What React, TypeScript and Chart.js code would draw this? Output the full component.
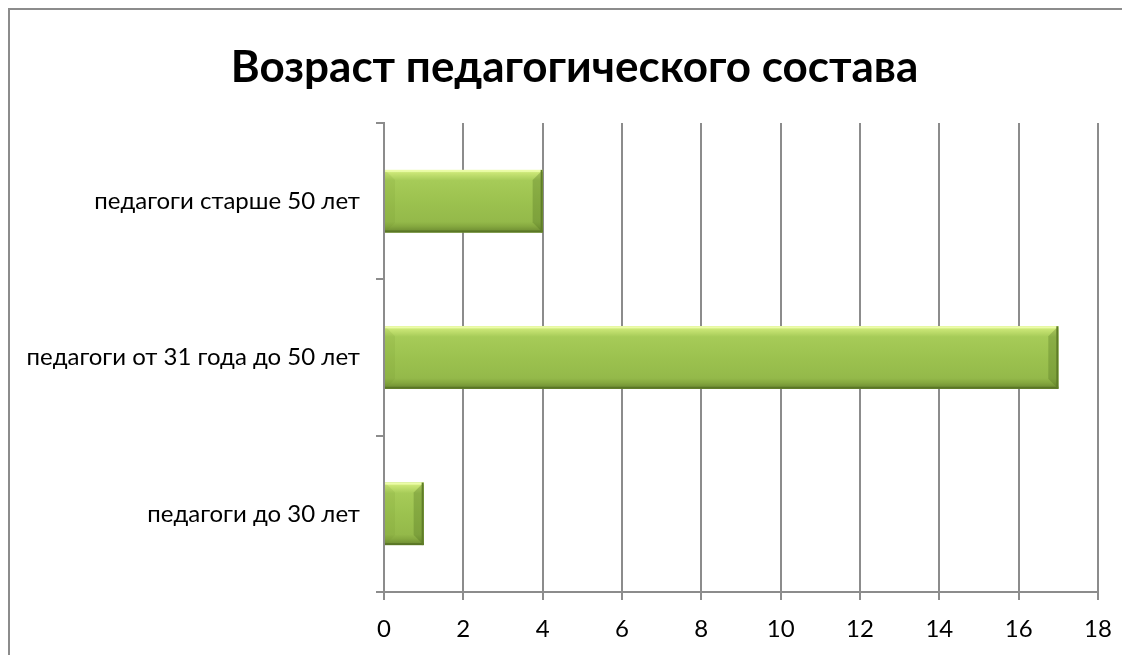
import React, { useEffect, useRef } from "react";
import { Chart, registerables } from "chart.js";

Chart.register(...registerables);

const TITLE = "Возраст педагогического состава";
const CATEGORIES = [
  "педагоги старше 50 лет",
  "педагоги от 31 года до 50 лет",
  "педагоги до 30 лет",
];
const VALUES = [4, 17, 1];
const X_MIN = 0;
const X_MAX = 18;
const X_STEP = 2;

const FONT = "Lato, 'Open Sans', sans-serif";
const GRID = "#8c8c8c";

const bevelPlugin = {
  id: "bevelBars",
  afterDatasetsDraw(chart: any) {
    const ctx = chart.ctx;
    const meta = chart.getDatasetMeta(0);
    meta.data.forEach((el: any) => {
      const { x, y, base, height } = el.getProps(["x", "y", "base", "height"], true);
      const left = Math.min(x, base);
      const right = Math.max(x, base);
      const top = y - height / 2;
      const bottom = y + height / 2;
      const w = right - left;
      const h = bottom - top;
      const b = Math.min(10, w / 2, h / 2);
      ctx.save();
      const g = ctx.createLinearGradient(0, top, 0, bottom);
      g.addColorStop(0, "#e4f89a");
      g.addColorStop(0.05, "#c9e575");
      g.addColorStop(0.17, "#a6cb58");
      g.addColorStop(0.5, "#9cc24f");
      g.addColorStop(0.83, "#94b94a");
      g.addColorStop(0.9, "#86a940");
      g.addColorStop(1, "#6a8830");
      ctx.fillStyle = g;
      ctx.fillRect(left, top, w, h);
      ctx.beginPath();
      ctx.moveTo(left, top);
      ctx.lineTo(left + b, top + b);
      ctx.lineTo(left + b, bottom - b);
      ctx.lineTo(left, bottom);
      ctx.closePath();
      ctx.fillStyle = "rgba(110,140,45,0.12)";
      ctx.fill();
      ctx.beginPath();
      ctx.moveTo(right, top);
      ctx.lineTo(right - b, top + b);
      ctx.lineTo(right - b, bottom - b);
      ctx.lineTo(right, bottom);
      ctx.closePath();
      ctx.fillStyle = "rgba(70,100,25,0.28)";
      ctx.fill();
      ctx.fillStyle = "#ecfca8";
      ctx.fillRect(left, top, w, 2);
      ctx.fillStyle = "#5a7626";
      ctx.fillRect(left, bottom - 2, w, 2);
      ctx.fillStyle = "#5f7d28";
      ctx.fillRect(right - 2, top, 2, h);
      ctx.restore();
    });
  },
};

export default function App() {
  const ref = useRef<HTMLCanvasElement | null>(null);

  useEffect(() => {
    if (!ref.current) return;
    const canvasH = 680;
    const chart = new Chart(ref.current, {
      type: "bar",
      data: {
        labels: CATEGORIES,
        datasets: [
          {
            data: VALUES,
            backgroundColor: "#9cc24f",
            barPercentage: 0.4,
            categoryPercentage: 1,
          },
        ],
      },
      plugins: [bevelPlugin],
      options: {
        indexAxis: "y",
        animation: false,
        responsive: false,
        maintainAspectRatio: false,
        layout: { padding: { left: 0, right: 11, top: 0, bottom: 0 } },
        plugins: {
          legend: { display: false },
          tooltip: { enabled: false },
          title: {
            display: true,
            text: TITLE,
            color: "#000",
            font: { family: FONT, size: 44, weight: "bold", lineHeight: 1.2 },
            padding: { top: 31, bottom: 29.2 },
          },
        },
        scales: {
          x: {
            min: X_MIN,
            max: X_MAX,
            ticks: {
              stepSize: X_STEP,
              color: "#000",
              font: { family: FONT, size: 24 },
              padding: 15,
              maxRotation: 0,
            },
            grid: {
              color: GRID,
              lineWidth: 2,
              tickLength: 8,
            },
            border: { display: true, color: GRID, width: 2 },
            afterFit: (scale: any) => {
              scale.height = canvasH - 582;
              scale.paddingRight = 52;
            },
          },
          y: {
            ticks: {
              color: "#000",
              font: { family: FONT, size: 24 },
              padding: 16,
            },
            grid: {
              drawOnChartArea: false,
              offset: true,
              color: GRID,
              lineWidth: 2,
              tickLength: 8,
            },
            border: { display: true, color: GRID, width: 2 },
            afterFit: (scale: any) => {
              scale.width = 374;
            },
          },
        },
      },
    });
    return () => chart.destroy();
  }, []);

  return (
    <div style={{ width: 1122, height: 647, overflow: "hidden", background: "#fff" }}>
      <div
        style={{
          width: 1140,
          height: 680,
          border: "2px solid #8c8c8c",
          background: "#fff",
        }}
      >
        <canvas ref={ref} width={1140} height={680} style={{ display: "block" }} />
      </div>
    </div>
  );
}
